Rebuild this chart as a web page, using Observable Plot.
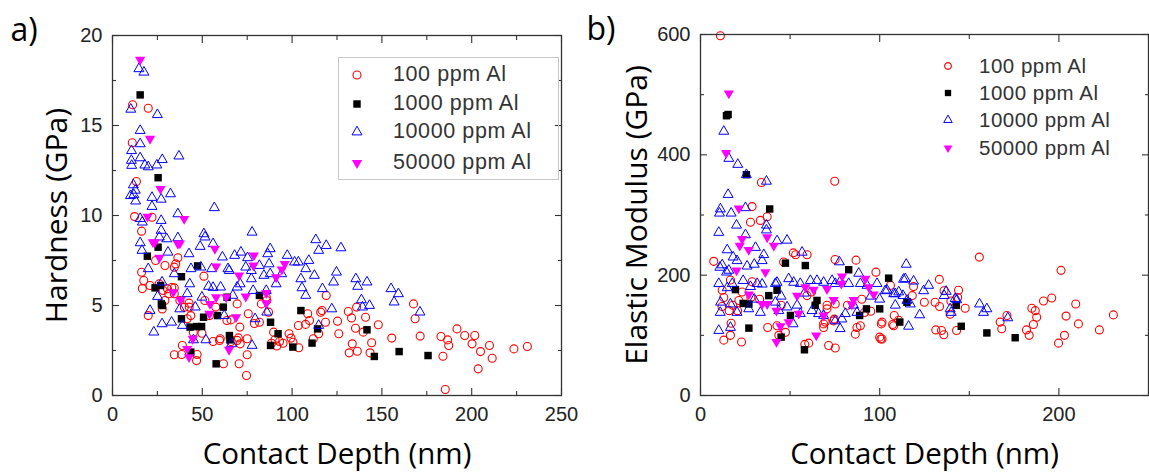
<!DOCTYPE html>
<html><head><meta charset="utf-8">
<script src="https://cdn.jsdelivr.net/npm/d3@7"></script>
<script src="https://cdn.jsdelivr.net/npm/@observablehq/plot@0.6"></script>
<style>
body{margin:0;background:#fff;}
#wrap{position:relative;width:1149px;height:472px;overflow:hidden;background:#fff;}
.panel{position:absolute;top:0;}
.panel svg{overflow:visible;}
.legend{position:absolute;font-family:"Liberation Sans",Arial,sans-serif;color:#333;}
.legend .txt{position:absolute;white-space:nowrap;line-height:1;transform:translateY(-50%);}
.legend svg{position:absolute;overflow:visible;}
</style></head><body><div id="wrap"></div>
<script>
// ---------- Series labels ----------
const seriesLabels = ["100 ppm Al", "1000 ppm Al", "10000 ppm Al", "50000 ppm Al"];

// ---------- Panel a: Hardness (GPa) vs Contact Depth (nm) ----------
const hard100 = [[11.2,16.15],[19.9,15.96],[11.0,14.04],[13.3,11.89],[12.3,9.94],[16.2,9.13],[22,9.9],[16.2,6.85],[17.4,6.39],[16.6,5.94],[20.9,6.11],[19.9,4.44],[24.0,7.5],[29.2,7.22],[28.2,5.83],[29.2,5.28],[27.7,4.81],[31.3,5.65],[36.4,7.65],[34.4,7.13],[35.2,7.31],[34.4,5.98],[34.4,5.65],[37.5,5.28],[42.6,5.13],[41.6,4.26],[38.9,2.78],[34.4,2.26],[38.5,2.28],[47.1,2.28],[46.8,1.94],[49.8,3.46],[50.9,6.63],[54,4.44],[57.5,4.91],[59.6,3.06],[61.8,1.76],[63.7,4.17],[69.4,5.09],[69.4,3.06],[71.1,2.87],[70.9,3.8],[70.5,1.76],[75.6,4.54],[75,3.15],[75,2.26],[74.6,1.11],[81.8,4.07],[82.9,5.09],[85.6,5.46],[88.5,2.9],[90.5,3.1],[89.7,3.52],[91.5,2.75],[98.3,3.43],[99.4,3.19],[100.5,2.96],[103.7,2.65],[103.5,3.89],[108.7,4.54],[109.7,4.17],[107.5,3.95],[111.8,3.15],[114.8,3.43],[115.9,4.63],[118.6,4.07],[119,5.56],[116.7,4.72],[125.3,4.13],[126.0,3.43],[131.3,4.67],[133.1,4.31],[135.9,4.91],[135.3,3.74],[140.9,4.35],[139.6,3.52],[148,3.93],[133.5,2.87],[131.8,2.37],[136.3,2.46],[144.3,2.93],[143.4,2.37],[155.5,3.19],[167.6,5.09],[168.5,4.26],[171.3,3.30],[182.9,3.28],[186.6,3.09],[187.2,2.78],[184,2.18],[191.8,3.70],[196.1,3.33],[201.7,3.33],[200.2,2.87],[204.9,2.44],[209.9,2.78],[211.4,2.07],[203.6,1.48],[185.3,0.33],[223.5,2.59],[231,2.72],[30.6,5.93],[51.4,5.28],[43.6,4.44],[42.7,4.91],[60.0,3.15],[70.1,3.2],[86.9,4.63],[85.9,5.28],[45,3.5],[56,3.0],[66,3.0],[40,4.9],[33,6.0],[26,6.2],[66,4.2],[95,2.9],[79,4.0],[93,3.0]];
const hard1000 = [[15.4,16.7],[25.4,12.1],[25.4,8.24],[19.4,7.74],[47.4,7.2],[38.4,6.6],[23.7,5.98],[26.8,6.11],[27.2,5.09],[27.8,5.0],[38.4,4.26],[43.2,3.80],[46.9,3.83],[49.6,3.83],[50.7,4.35],[58.5,4.44],[63.8,5.46],[61.7,4.91],[65.1,3.33],[65.4,3.09],[43.6,2.41],[57.7,1.76],[81.8,5.56],[88,4.07],[88,2.78],[92.2,3.43],[104.9,4.72],[100.4,2.69],[111.1,2.91],[114.2,3.7],[141.7,3.65],[145.8,2.17],[159.6,2.44],[175.7,2.22]];
const hard10000 = [[14.7,18.15],[17.5,17.96],[10.2,15.9],[25,15.6],[15.4,14.72],[15.4,13.98],[10.6,13.6],[10.5,13.06],[10.7,12.78],[15.4,13.2],[18.0,12.8],[19.9,12.7],[24.7,12.8],[27.7,13.1],[37,13.3],[11.6,11.7],[12.7,11.4],[11.9,11.15],[10.0,11.1],[12.9,10.8],[22,11.0],[22,10.5],[27.1,10.9],[32.3,11.2],[15.4,9.83],[16.6,9.63],[27.1,9.72],[27.1,9.17],[36.4,10.09],[56.7,10.43],[15.4,8.48],[16.4,8.06],[26.1,8.8],[30.2,8.7],[30.9,7.96],[36.4,8.76],[42.6,7.87],[19.9,7.04],[43.7,7.04],[50.9,8.98],[51.5,8.8],[48.8,8.28],[56,8.43],[55.2,7.04],[61.2,7.69],[64.3,7.04],[68,7.78],[71.5,7.96],[74.2,7.13],[75.2,7.65],[77.7,9.07],[77.3,6.94],[77.3,6.48],[71.1,6.2],[81.8,7.22],[84.3,6.67],[86.4,7.87],[87.8,8.15],[87.2,7.31],[87.8,6.76],[85.9,4.63],[79.4,4.26],[77.7,2.78],[91.1,6.2],[94.2,6.76],[97.3,7.78],[101.4,7.41],[103.5,7.41],[109.3,7.5],[107.6,7.04],[104.9,6.48],[105.5,5.98],[107.6,5.56],[113.2,8.65],[114.8,8.06],[112.4,6.67],[116.9,5.93],[119,8.33],[122.1,4.81],[123.1,6.3],[124.7,6.85],[127.2,8.2],[135.5,6.48],[136.5,6.06],[141.7,6.3],[138.6,5.31],[139.2,4.91],[143.1,5.0],[155.1,5.93],[156.8,5.19],[159.2,5.65],[171.2,4.63],[114.8,3.89],[20.9,4.72],[23,3.52],[27.6,3.98],[32.9,4.07],[25.1,5.5],[27.6,6.3],[34.4,6.76],[37.5,4.81],[38.9,3.89],[41.6,5.65],[43,6.2],[46.1,4.91],[45.1,3.09],[52,3.09],[49.8,5.46],[53.5,6.06],[56,6.0],[60.2,6.02],[62.2,4.44],[67,5.56],[66.3,2.87],[69.4,6.02],[78.3,5.83],[85.6,5.83],[65.0,6.94],[49.2,7.13]];
const hard50000 = [[15.4,18.65],[20.9,14.26],[26.7,11.48],[19.5,9.94],[39.9,9.81],[22.5,8.52],[36.4,8.43],[26.1,7.65],[57,8.15],[57.7,7.17],[78.7,7.78],[78.5,7.22],[70.5,6.67],[95.9,7.31],[94.3,7.0],[91.1,6.57],[33.9,5.74],[37.9,5.31],[57.7,5.46],[54.3,5.09],[54,4.54],[63.3,5.46],[68.8,4.35],[74.2,5.5],[85.6,5.69],[85.6,5.13],[44.7,3.15],[41.6,2.59],[42.6,2.13],[64.9,2.54],[23.5,8.5],[37.5,8.45]];

// ---------- Panel b: Elastic Modulus (GPa) vs Contact Depth (nm) ----------
const mod100 = [[11.1,598],[34,354],[74.9,356],[28.8,314],[33.4,291],[37.2,297],[27.9,288],[7.4,223],[16.7,192],[12.1,175],[13,163],[21.4,158],[23.2,172],[13.0,92],[22.9,89],[16.7,100],[16,141],[20.7,141],[17.1,120],[28.8,189],[28.1,163],[37.5,113],[42.7,116],[43.7,100],[47.4,105],[53.1,234],[59.5,234],[51.8,237],[58.2,85],[60.4,87],[71.5,83],[75.2,79],[68.7,113],[74.3,124],[68.7,119],[70.6,150],[69.6,122],[75.1,226],[74.7,127],[87.3,113],[89.2,116],[86.4,102],[86.8,225],[91.5,138],[97.9,205],[100.9,119],[100,97],[100.6,94],[107.2,118],[110.6,125],[106,183],[108.1,133],[75.2,152],[70.6,144],[59.4,166],[118.2,166],[118.9,181],[124.9,155],[130.9,155],[133.4,148],[133.3,193],[135.9,174],[139.7,157],[144.0,175],[147.7,145],[131.3,109],[134.5,108],[135.8,101],[142.9,108],[139.3,135],[155.6,230],[167.2,122],[168.1,111],[171.0,133],[181.9,109],[183.4,100],[184.9,145],[186.8,141],[187.6,130],[185.8,118],[191.4,157],[196.0,162],[199.8,87],[203.1,100],[201.2,208],[204.0,132],[210.9,119],[209.4,152],[222.6,109],[230.4,134],[101.3,122],[101.3,94],[107.8,116],[143.5,163],[46.4,222],[12,148],[18,150],[33,160],[45,150],[62,172],[82,150],[90,160],[95,140]];
const mod1000 = [[14.5,465],[15.4,467],[25.6,367],[38.6,310],[19.5,176],[23.8,153],[27.0,152],[38.1,166],[42.7,175],[47.4,220],[58.5,216],[65.0,158],[50.2,133],[45.0,97],[58.0,76],[27.0,112],[82.7,209],[88.8,133],[92.6,144],[100.0,144],[105,195],[111.2,122],[115.2,155],[142.7,150],[145.5,115],[159.8,104],[175.6,96],[64,150]];
const mod10000 = [[13,439],[15.8,394],[20.8,384],[25.6,367],[36.8,356],[15.4,334],[11.1,310],[10.6,303],[17.1,303],[25.1,312],[10.2,271],[20.1,283],[36.8,283],[36.8,275],[25.1,267],[48.3,258],[42.7,257],[14.9,242],[18.2,230],[30.7,246],[35.3,234],[34.4,224],[56.7,238],[77.5,222],[88.3,203],[10.8,213],[12.1,217],[15.8,208],[14.5,205],[20.4,224],[26,215],[30,218],[10.2,186],[14.9,179],[17.7,186],[23.8,191],[27.9,181],[31.6,186],[34.4,185],[41.8,186],[42.7,188],[49.2,194],[52.0,188],[55.7,186],[61.3,191],[65.0,191],[68.7,188],[73.4,191],[75.2,186],[78.0,190],[82.7,186],[89.2,186],[92.9,183],[98.5,186],[104.1,175],[107.8,169],[110.6,172],[114.3,194],[115.2,158],[11.2,155],[16.7,152],[20.4,138],[26.9,144],[33.4,138],[41.8,155],[43.7,141],[48.3,147],[53.9,150],[55.7,136],[62.2,141],[65.9,136],[68.7,133],[75.2,124],[78.9,127],[80.8,136],[85.4,150],[87.3,138],[10.2,108],[16.7,113],[51.7,119],[77.9,111],[114.8,218],[113.3,193],[118.9,190],[127.3,183],[124.5,174],[137.1,173],[136,166],[142.1,161],[143,159],[155.7,152],[159.8,144],[157.9,138],[171.5,129],[139.3,144],[139.9,138],[103.1,174],[108.7,169],[113,166],[117.1,152],[122.3,134],[116.1,115],[108.7,150],[11,138],[30,160],[45,165],[58,170],[95,165],[100,160]];
const mod50000 = [[15.8,502],[14.3,403],[21.4,311],[37.2,263],[23.2,260],[40.9,249],[21.9,249],[26.9,242],[20.1,208],[36.2,205],[27.0,168],[34.4,152],[37.2,152],[42.4,141],[53.9,166],[54.8,136],[58.5,180],[63.1,176],[70.6,177],[74.3,159],[68.7,133],[79.0,198],[78.6,186],[85.4,159],[84.5,151],[92.0,194],[93.9,180],[96.6,168],[49.2,122],[44.6,115],[42.4,89],[64.6,100]];

// ---------- Axis ticks ----------
const hardXMajor = [0, 50, 100, 150, 200, 250];
const hardXMinor = [25, 75, 125, 175, 225];
const hardYMajor = [0, 5, 10, 15, 20];
const hardYMinor = [2.5, 7.5, 12.5, 17.5];
const modXMajor = [0, 100, 200];
const modXMinor = [50, 150, 250];
const modYMajor = [0, 200, 400, 600];
const modYMinor = [100, 300, 500];

// ---------- Styles ----------
const seriesColors = ["#ff0000", "#000000", "#0000ff", "#ff00ff"];
const triangleDown = {draw(ctx, size) {
  const s3 = Math.sqrt(3), y = -Math.sqrt(size / (s3 * 3));
  ctx.moveTo(0, -y * 2); ctx.lineTo(-s3 * y, y); ctx.lineTo(s3 * y, y); ctx.closePath();
}};
const seriesStyles = [
  {symbol: "circle", fill: "none", stroke: seriesColors[0], r: 4, strokeWidth: 1.1},
  {symbol: "square", fill: seriesColors[1], stroke: "none", r: 4.2},
  {symbol: "triangle", fill: "none", stroke: seriesColors[2], r: 3.7, strokeWidth: 1},
  {symbol: triangleDown, fill: seriesColors[3], stroke: "none", r: 3.8}
];
const tickFont = "Liberation Sans, Arial, sans-serif";
const titleFont = "Open Sans, Noto Sans, sans-serif";

function makePanel(o) {
  const tk = {fill: "none", stroke: "#333", strokeWidth: 1.1, label: null};
  const marks = [];
  o.series.forEach((data, i) => {
    marks.push(Plot.dot(data, {x: d => d[0], y: d => d[1], ...seriesStyles[i]}));
  });
  marks.push(
    Plot.frame({stroke: "#333", strokeWidth: 1.3}),
    Plot.axisX(o.xMajor, {anchor: "bottom", tickSize: 0, tickPadding: 11, fontSize: 20, fontFamily: tickFont, fill: "#222", label: null}),
    Plot.axisY(o.yMajor, {anchor: "left", tickSize: 0, tickPadding: 10, fontSize: 20, fontFamily: tickFont, fill: "#222", label: null}),
    Plot.axisX(o.xMajor, {anchor: "bottom", tickSize: -7, ...tk}),
    Plot.axisX(o.xMinor, {anchor: "bottom", tickSize: -4, ...tk}),
    Plot.axisX(o.xMajor, {anchor: "top", tickSize: -7, ...tk}),
    Plot.axisX(o.xMinor, {anchor: "top", tickSize: -4, ...tk}),
    Plot.axisY(o.yMajor, {anchor: "left", tickSize: -7, ...tk}),
    Plot.axisY(o.yMinor, {anchor: "left", tickSize: -4, ...tk}),
    Plot.axisY(o.yMajor, {anchor: "right", tickSize: -7, ...tk}),
    Plot.axisY(o.yMinor, {anchor: "right", tickSize: -4, ...tk}),
    Plot.text([o.xTitle], {text: d => d, frameAnchor: "bottom", textAnchor: "middle", lineAnchor: "middle", dy: 59, fontSize: 29.5, fontFamily: titleFont, fill: "#000"}),
    Plot.text([o.yTitle], {text: d => d, frameAnchor: "left", textAnchor: "middle", lineAnchor: "middle", rotate: -90, dx: o.yTitleDx, fontSize: 30, fontFamily: titleFont, fill: "#000"}),
    Plot.text([o.tag], {text: d => d, frameAnchor: "top-left", textAnchor: "start", lineAnchor: "middle", dx: o.tagDx, dy: -5, fontSize: 32, fontFamily: titleFont, fill: "#000"})
  );
  return Plot.plot({
    width: o.width, height: 472,
    marginLeft: o.marginLeft, marginRight: o.marginRight, marginTop: o.marginTop, marginBottom: 77,
    x: {domain: o.xDomain, label: null},
    y: {domain: o.yDomain, label: null},
    style: {fontFamily: tickFont, fontSize: "20px", background: "transparent", overflow: "visible"},
    marks
  });
}

const wrap = document.getElementById("wrap");

function addPanel(left, plot) {
  const d = document.createElement("div");
  d.className = "panel"; d.style.left = left + "px";
  d.appendChild(plot); wrap.appendChild(d);
}

addPanel(0, makePanel({
  series: [hard100, hard1000, hard10000, hard50000],
  xDomain: [0, 250], yDomain: [0, 20],
  xMajor: hardXMajor, xMinor: hardXMinor, yMajor: hardYMajor, yMinor: hardYMinor,
  width: 580, marginLeft: 112, marginRight: 19, marginTop: 35,
  xTitle: "Contact Depth (nm)", yTitle: "Hardness (GPa)", yTitleDx: -55,
  tag: "a)", tagDx: -102
}));
addPanel(580, makePanel({
  series: [mod100, mod1000, mod10000, mod50000],
  xDomain: [0, 250], yDomain: [0, 600],
  xMajor: modXMajor, xMinor: modXMinor, yMajor: modYMajor, yMinor: modYMinor,
  width: 569, marginLeft: 120, marginRight: 1, marginTop: 34,
  xTitle: "Contact Depth (nm)", yTitle: "Elastic Modulus (GPa)", yTitleDx: -63,
  tag: "b)", tagDx: -114
}));

// ---------- Legends ----------
function addLegend(cfg) {
  const box = document.createElement("div");
  box.className = "legend";
  Object.assign(box.style, {left: cfg.left + "px", top: cfg.top + "px", width: cfg.width + "px", height: cfg.height + "px",
    border: cfg.border ? "1px solid #c8c8c8" : "none", boxSizing: "border-box", fontSize: cfg.fontSize + "px", letterSpacing: cfg.spacing + "px"});
  seriesLabels.forEach((lab, i) => {
    const st = seriesStyles[i];
    const r = st.r * cfg.scale;
    const type = st.symbol === "circle" ? d3.symbolCircle : st.symbol === "square" ? d3.symbolSquare : st.symbol === "triangle" ? d3.symbolTriangle : triangleDown;
    const svg = d3.create("svg").attr("width", 20).attr("height", 20)
      .style("left", (cfg.markX - cfg.left - 10) + "px").style("top", (cfg.rows[i] - cfg.top - 10) + "px");
    svg.append("path").attr("transform", "translate(10,10)")
      .attr("d", d3.symbol(type, Math.PI * r * r)())
      .attr("fill", st.fill).attr("stroke", st.stroke).attr("stroke-width", st.strokeWidth || 0);
    box.appendChild(svg.node());
    const t = document.createElement("div");
    t.className = "txt"; t.textContent = lab;
    t.style.left = (cfg.textX - cfg.left) + "px"; t.style.top = (cfg.rows[i] - cfg.top) + "px";
    box.appendChild(t);
  });
  wrap.appendChild(box);
}
addLegend({left: 338, top: 57, width: 221, height: 123, border: true, fontSize: 21.5, spacing: 0.6, markX: 356, textX: 392, rows: [74, 103, 131, 162], scale: 1});
addLegend({left: 930, top: 50, width: 210, height: 115, border: false, fontSize: 20.5, spacing: 0.5, markX: 948, textX: 979, rows: [66, 93, 120, 148], scale: 0.85});
</script></body></html>
